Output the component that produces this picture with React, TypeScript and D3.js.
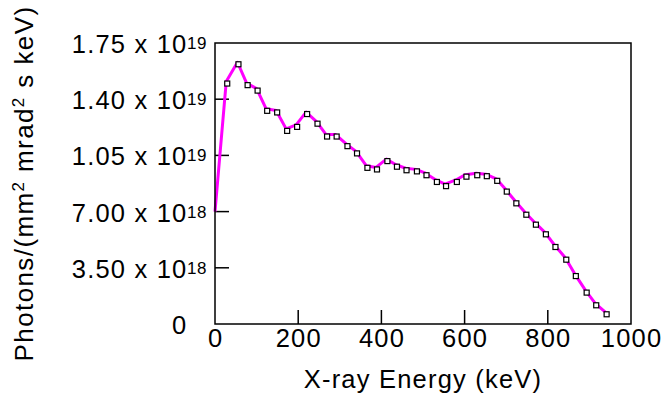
import React from 'react';
import * as d3 from 'd3';

// energy (keV) and photon flux
const energies = [0, 27, 54, 76, 100, 123, 147, 171, 195, 219, 244, 267, 290, 316, 339, 364, 387, 412, 435, 458, 483, 506, 531, 553, 579, 602, 628, 651, 676, 699, 722, 746, 769, 793, 816, 842, 865, 891, 914, 939];
const photons = [7.0e18, 1.51e19, 1.63e19, 1.5e19, 1.466e19, 1.34e19, 1.33e19, 1.215e19, 1.24e19, 1.32e19, 1.26e19, 1.18e19, 1.18e19, 1.12e19, 1.075e19, 9.85e18, 9.75e18, 1.027e19, 9.92e18, 9.7e18, 9.63e18, 9.39e18, 8.97e18, 8.71e18, 8.97e18, 9.3e18, 9.39e18, 9.33e18, 9.04e18, 8.37e18, 7.64e18, 6.93e18, 6.31e18, 5.71e18, 4.92e18, 4.13e18, 3.11e18, 2.08e18, 1.29e18, 7.3e17];
// the first point (0 keV) has no marker
const markerFrom = 1;

const xTicks = [0, 200, 400, 600, 800, 1000];
const yTicks = [0, 3.5e18, 7.0e18, 1.05e19, 1.4e19, 1.75e19];
const yTickMantissa = ['0', '3.50 x 10', '7.00 x 10', '1.05 x 10', '1.40 x 10', '1.75 x 10'];
const yTickExponent = ['', '18', '18', '19', '19', '19'];

const W = 662;
const H = 394;
const plot = { left: 215, right: 631, top: 43, bottom: 324 };
const font = '"Liberation Sans", Arial, Helvetica, sans-serif';
const fs = 25.5;
const ls = 1.2;

export default function App() {
  const x = d3.scaleLinear().domain([0, 1000]).range([plot.left, plot.right]);
  const y = d3.scaleLinear().domain([0, 1.75e19]).range([plot.bottom, plot.top]);

  const pts = energies.map((e, i) => ({ e, v: photons[i] }));
  const line = d3.line<{ e: number; v: number }>()
    .x(d => x(d.e))
    .y(d => y(d.v));

  return (
    <svg width={W} height={H} style={{ position: 'absolute', left: 0, top: 0, background: '#fff' }}
      fontFamily={font}>
      <rect x={0} y={0} width={W} height={H} fill="#fff" />

      {/* ticks, inward on left and bottom only */}
      {xTicks.slice(1, -1).map(t => (
        <line key={'xt' + t} x1={x(t)} x2={x(t)} y1={plot.bottom} y2={plot.bottom - 14} stroke="#000" strokeWidth={1.5} />
      ))}
      {yTicks.slice(1, -1).map(t => (
        <line key={'yt' + t} x1={plot.left} x2={plot.left + 14} y1={y(t)} y2={y(t)} stroke="#000" strokeWidth={1.5} />
      ))}

      <path d={line(pts) || ''} fill="none" stroke="#ff00ff" strokeWidth={3} strokeLinejoin="round" />
      {pts.slice(markerFrom).map((d, i) => (
        <rect key={'m' + i} x={x(d.e) - 1.5} y={y(d.v) - 0.5} width={5} height={5}
          fill="#fff" stroke="#000" strokeWidth={1.2} />
      ))}

      <rect x={plot.left} y={plot.top} width={plot.right - plot.left} height={plot.bottom - plot.top}
        fill="none" stroke="#000" strokeWidth={1.5} />

      {/* x tick labels */}
      {xTicks.map(t => (
        <text key={'xl' + t} x={x(t) + ls / 2} y={347} textAnchor="middle" fontSize={fs} letterSpacing={ls} fill="#000">
          {t}
        </text>
      ))}

      {/* y tick labels with superscript exponent */}
      {yTicks.map((t, i) => (
        <g key={'yl' + t}>
          <text x={187.5} y={y(t) + 10} textAnchor="end" fontSize={fs} letterSpacing={ls} fill="#000">
            {yTickMantissa[i]}
          </text>
          {yTickExponent[i] && (
            <text x={187} y={y(t) + 6} fontSize={17} letterSpacing={0.6} fill="#000">
              {yTickExponent[i]}
            </text>
          )}
        </g>
      ))}

      <text x={(plot.left + plot.right) / 2} y={388} textAnchor="middle" fontSize={fs} letterSpacing={ls} fill="#000">
        X-ray Energy (keV)
      </text>

      <text transform="translate(33,183.5) rotate(-90)" textAnchor="middle" fontSize={26} letterSpacing={1.4} fill="#000">
        Photons/(mm<tspan fontSize={17} dy={-9}>2</tspan>
        <tspan dy={9}> mrad</tspan><tspan fontSize={17} dy={-9}>2</tspan>
        <tspan dy={9}> s keV)</tspan>
      </text>
    </svg>
  );
}
